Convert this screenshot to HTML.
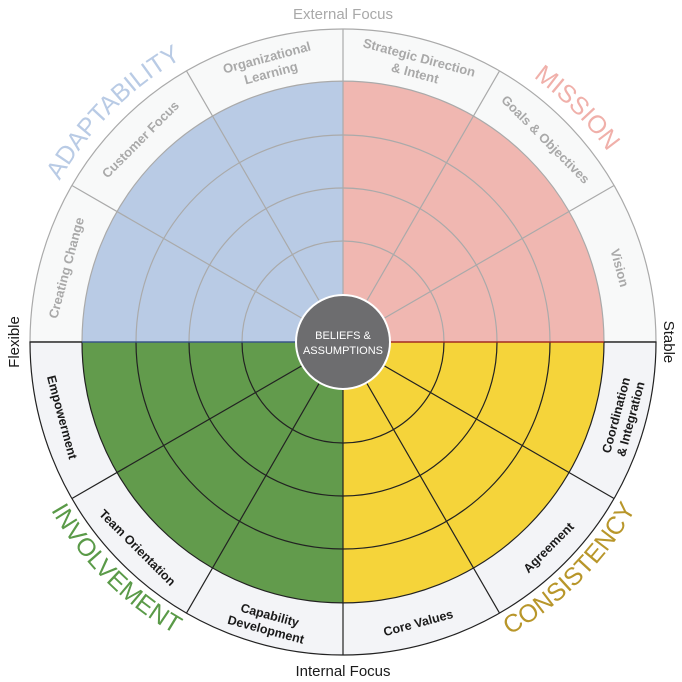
<!DOCTYPE html>
<html><head><meta charset="utf-8"><style>
html,body{margin:0;padding:0;background:#fff;}
svg{display:block;font-family:"Liberation Sans",Arial,sans-serif;}
</style></head><body>
<svg width="682" height="682" viewBox="0 0 682 682" xmlns="http://www.w3.org/2000/svg">
<defs>
<path id="arcTL" d="M 17 342 A 326 326 0 0 1 343 16"/>
<path id="arcTR" d="M 343 16 A 326 326 0 0 1 669 342"/>
<path id="arcBL" d="M 6 342 A 337 337 0 0 0 343 679"/>
<path id="arcBR" d="M 343 679 A 337 337 0 0 0 680 342"/>
</defs>
<path d="M 30 342 A 313 313 0 0 1 656 342 Z" fill="#f8f9f9" stroke="#aaa" stroke-width="1.2"/>
<path d="M 30 342 A 313 313 0 0 0 656 342 Z" fill="#f3f4f7" stroke="#222" stroke-width="1.2"/>
<path d="M343 342 L82 342 A261 261 0 0 1 343 81 Z" fill="#b9cbe5"/>
<path d="M343 342 L343 81 A261 261 0 0 1 604 342 Z" fill="#f0b7b1"/>
<path d="M343 342 L82 342 A261 261 0 0 0 343 603 Z" fill="#629b4c"/>
<path d="M343 342 L343 603 A261 261 0 0 0 604 342 Z" fill="#f5d43a"/>
<g fill="none" stroke-width="1.2">
<path d="M82 342 A261 261 0 0 1 604 342" stroke="#aaa"/>
<path d="M136 342 A207 207 0 0 1 550 342" stroke="#aaa"/>
<path d="M189 342 A154 154 0 0 1 497 342" stroke="#aaa"/>
<path d="M242 342 A101 101 0 0 1 444 342" stroke="#aaa"/>
<path d="M82 342 A261 261 0 0 0 604 342" stroke="#222"/>
<path d="M136 342 A207 207 0 0 0 550 342" stroke="#222"/>
<path d="M189 342 A154 154 0 0 0 497 342" stroke="#222"/>
<path d="M242 342 A101 101 0 0 0 444 342" stroke="#222"/>
</g>
<g stroke-width="1.2">
<line x1="343" y1="342" x2="343" y2="29" stroke="#aaa" transform="rotate(-60 343 342)"/>
<line x1="343" y1="342" x2="343" y2="29" stroke="#aaa" transform="rotate(-30 343 342)"/>
<line x1="343" y1="342" x2="343" y2="29" stroke="#aaa"/>
<line x1="343" y1="342" x2="343" y2="29" stroke="#aaa" transform="rotate(30 343 342)"/>
<line x1="343" y1="342" x2="343" y2="29" stroke="#aaa" transform="rotate(60 343 342)"/>
<line x1="343" y1="342" x2="343" y2="655" stroke="#222" transform="rotate(-60 343 342)"/>
<line x1="343" y1="342" x2="343" y2="655" stroke="#222" transform="rotate(-30 343 342)"/>
<line x1="343" y1="342" x2="343" y2="655" stroke="#222"/>
<line x1="343" y1="342" x2="343" y2="655" stroke="#222" transform="rotate(30 343 342)"/>
<line x1="343" y1="342" x2="343" y2="655" stroke="#222" transform="rotate(60 343 342)"/>
<line x1="30" y1="342" x2="343" y2="342" stroke="#222"/>
<line x1="343" y1="342" x2="656" y2="342" stroke="#222"/>
<line x1="82" y1="342" x2="343" y2="342" stroke="#3b5a99"/>
<line x1="343" y1="342" x2="604" y2="342" stroke="#b3261e"/>
</g>
<circle cx="343" cy="342" r="47" fill="#6d6d6f" stroke="#fff" stroke-width="2"/>
<text x="343" y="339" fill="#fff" font-size="11" text-anchor="middle">BELIEFS &amp;</text>
<text x="343" y="354" fill="#fff" font-size="11" text-anchor="middle">ASSUMPTIONS</text>
<g fill="#a9a9a9" font-size="13" font-weight="bold" text-anchor="middle">
<text x="343" y="60" transform="rotate(-75 343 342)">Creating Change</text>
<text x="343" y="60" transform="rotate(-45 343 342)">Customer Focus</text>
<text transform="rotate(-15 343 342)"><tspan x="343" y="52">Organizational</tspan><tspan x="343" y="68">Learning</tspan></text>
<text transform="rotate(15 343 342)"><tspan x="343" y="52">Strategic Direction</tspan><tspan x="343" y="68">&amp; Intent</tspan></text>
<text x="343" y="60" transform="rotate(45 343 342)">Goals &amp; Objectives</text>
<text x="343" y="60" transform="rotate(75 343 342)">Vision</text>
</g>
<g fill="#1a1a1a" font-size="12.5" font-weight="bold" text-anchor="middle">
<text transform="rotate(-75 343 342)"><tspan x="343" y="629">Coordination</tspan><tspan x="343" y="644">&amp; Integration</tspan></text>
<text x="343" y="637" transform="rotate(-45 343 342)">Agreement</text>
<text x="343" y="637" transform="rotate(-15 343 342)">Core Values</text>
<text transform="rotate(15 343 342)"><tspan x="343" y="629">Capability</tspan><tspan x="343" y="644">Development</tspan></text>
<text x="343" y="637" transform="rotate(45 343 342)">Team Orientation</text>
<text x="343" y="637" transform="rotate(75 343 342)">Empowerment</text>
</g>
<g font-size="25" text-anchor="middle">
<text fill="#b9cbe5"><textPath href="#arcTL" startOffset="50%">ADAPTABILITY</textPath></text>
<text fill="#f0b0aa"><textPath href="#arcTR" startOffset="50%">MISSION</textPath></text>
<text fill="#5a9a48"><textPath href="#arcBL" startOffset="50%">INVOLVEMENT</textPath></text>
<text fill="#b8962a"><textPath href="#arcBR" startOffset="50%">CONSISTENCY</textPath></text>
</g>
<text x="343" y="19" fill="#a9a9a9" font-size="15" text-anchor="middle">External Focus</text>
<text x="343" y="676" fill="#1a1a1a" font-size="15" text-anchor="middle">Internal Focus</text>
<text x="0" y="0" fill="#1a1a1a" font-size="15" text-anchor="middle" transform="translate(19 342) rotate(-90)">Flexible</text>
<text x="0" y="0" fill="#1a1a1a" font-size="15" text-anchor="middle" transform="translate(664 342) rotate(90)">Stable</text>
</svg>
</body></html>
